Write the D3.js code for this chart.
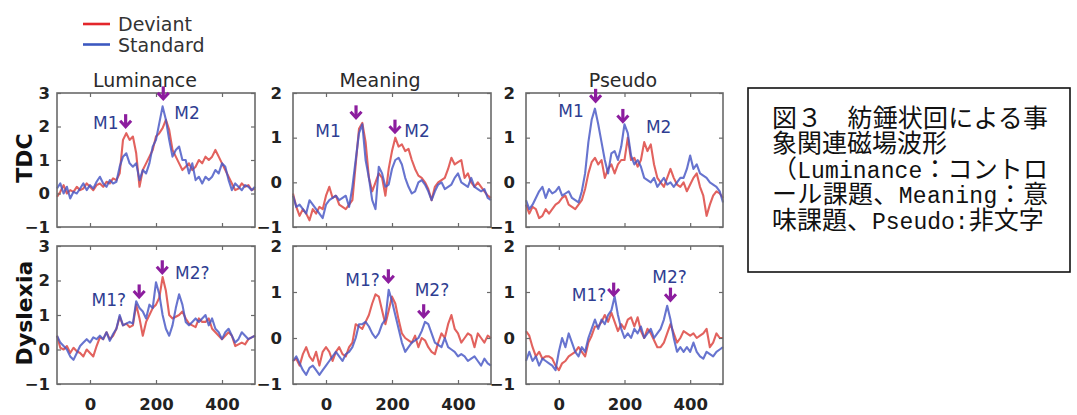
<!DOCTYPE html>
<html><head><meta charset="utf-8">
<script src="https://cdn.jsdelivr.net/npm/d3@7"></script>
<style>body{margin:0;background:#fff;} svg{display:block;}</style>
</head><body>
<svg id="chart" width="1077" height="415"></svg>
<script>
// ---------- DATA ----------
const times = d3.range(-100, 501, 10); // ms sample times
const xTickValues = [0, 200, 400];
const yTicks3 = [-1, 0, 1, 2, 3];
const yTicks2 = [-1, 0, 1, 2];
const seriesNames = ["Deviant", "Standard"];
const rowLabels = ["TDC", "Dyslexia"];
const colTitles = ["Luminance", "Meaning", "Pseudo"];

const lumTdcDev = [-0.1,0.05,0.25,0.0,0.1,0.05,0.2,0.1,0.15,0.3,
  0.2,0.1,0.25,0.3,0.2,0.35,0.3,0.45,0.4,0.6,
  1.6,1.8,1.6,1.7,1.2,0.2,0.7,0.9,1.1,1.3,
  1.7,1.8,1.95,2.2,1.9,1.3,1.1,0.9,0.7,0.8,
  0.9,0.7,0.8,1.0,0.9,1.1,1.0,1.1,1.3,1.1,
  0.9,0.7,0.5,0.3,0.1,0.15,0.3,0.2,0.25,0.1,
  0.15];
const lumTdcStd = [0.15,0.3,0.0,0.2,-0.15,0.05,0.0,0.15,0.3,0.1,
  0.25,0.15,0.35,0.5,0.3,0.2,0.4,0.3,0.35,0.8,
  1.1,1.2,0.9,0.8,0.9,0.4,0.7,0.6,0.9,1.4,
  1.6,2.1,2.6,2.2,1.6,1.1,1.3,1.4,1.0,1.0,
  0.6,0.9,0.4,0.5,0.3,0.5,0.4,0.5,0.7,0.6,
  0.9,0.8,0.4,0.1,0.3,0.2,0.1,0.25,0.2,0.1,
  0.2];
const meanTdcDev = [-0.25,-0.55,-0.75,-0.6,-0.7,-0.85,-0.6,-0.7,-0.55,-0.6,
  -0.3,-0.1,-0.35,-0.3,-0.5,-0.55,-0.6,-0.5,-0.4,0.4,
  1.2,1.33,0.9,0.1,-0.2,0.0,0.2,0.1,-0.3,0.3,
  0.7,1.0,0.8,0.85,0.7,0.75,0.5,0.3,0.15,0.1,
  0.0,-0.15,-0.4,-0.1,0.0,0.05,0.1,0.3,0.55,0.4,
  0.45,0.5,0.1,0.2,0.0,-0.1,0.0,-0.1,-0.2,-0.3,
  -0.35];
const meanTdcStd = [-0.3,-0.55,-0.5,-0.6,-0.7,-0.4,-0.5,-0.6,-0.7,-0.8,
  -0.5,-0.4,-0.35,-0.3,-0.4,-0.35,-0.3,-0.55,-0.1,0.5,
  1.1,1.3,0.5,0.1,-0.4,-0.6,0.35,0.2,-0.1,-0.05,
  0.3,0.5,0.55,0.4,0.1,-0.1,-0.25,-0.2,0.0,0.05,
  -0.05,-0.2,-0.4,-0.2,-0.05,0.0,-0.15,-0.1,-0.05,0.1,
  0.2,0.0,-0.05,-0.1,0.1,-0.1,-0.15,-0.2,-0.15,-0.35,
  -0.4];
const pseuTdcDev = [-0.5,-0.7,-0.55,-0.6,-0.8,-0.75,-0.6,-0.7,-0.6,-0.5,
  -0.45,-0.35,-0.3,-0.5,-0.55,-0.6,-0.5,-0.4,-0.15,0.2,
  0.45,0.55,0.4,0.5,0.1,0.3,0.4,0.2,0.4,0.5,
  0.5,1.0,0.5,0.55,0.35,0.5,0.9,0.7,0.85,0.4,
  0.1,0.0,-0.1,0.1,0.3,0.1,-0.05,-0.1,0.0,-0.2,
  -0.05,0.1,0.2,-0.1,-0.3,-0.75,-0.5,-0.3,-0.2,-0.25,
  -0.35];
const pseuTdcStd = [-0.4,-0.6,-0.5,-0.35,-0.2,-0.1,-0.35,-0.15,-0.25,-0.2,
  -0.1,-0.3,-0.25,-0.2,-0.35,-0.4,-0.45,-0.2,0.2,0.9,
  1.4,1.65,1.3,0.9,0.5,0.2,0.65,0.7,0.5,0.8,
  1.3,1.1,0.6,0.4,0.5,0.35,0.1,0.05,0.0,0.1,
  -0.1,0.0,0.1,-0.05,0.0,-0.1,0.0,0.1,0.1,0.3,
  0.6,0.3,0.4,0.2,0.15,0.1,0.0,-0.05,-0.1,-0.2,
  -0.45];
const lumDysDev = [0.4,0.05,0.0,0.1,-0.1,0.05,-0.05,-0.1,-0.2,0.0,
  -0.1,-0.2,0.1,0.35,0.3,0.5,0.3,0.4,0.6,0.95,
  0.7,0.75,0.65,0.7,1.3,0.9,0.4,0.8,1.0,1.2,
  1.3,1.5,2.1,1.7,1.0,0.9,0.95,1.0,1.1,0.9,
  0.75,0.7,0.65,0.9,0.8,0.8,0.9,0.6,0.5,0.4,
  0.3,0.4,0.5,0.4,0.1,0.15,0.2,0.15,0.3,0.35,
  0.4];
const lumDysStd = [0.4,0.2,0.1,0.0,-0.2,-0.3,-0.1,0.1,0.2,0.3,
  0.2,0.35,0.3,0.4,0.3,0.5,0.25,0.45,0.6,1.0,
  0.7,0.75,0.8,0.75,1.4,1.2,1.1,0.9,1.3,1.2,
  1.95,1.6,1.0,0.6,0.4,0.7,1.2,1.6,1.3,0.8,
  0.7,0.8,0.9,0.8,0.9,1.0,0.7,0.9,0.6,0.5,
  0.3,0.5,0.6,0.4,0.2,0.3,0.5,0.4,0.3,0.35,
  0.4];
const meanDysDev = [-0.5,-0.45,-0.6,-0.35,-0.2,-0.4,-0.5,-0.3,-0.6,-0.3,
  -0.2,-0.3,-0.5,-0.3,-0.2,-0.35,-0.4,-0.2,-0.1,0.3,
  0.25,0.2,0.35,0.5,0.75,0.95,0.9,0.6,0.3,0.6,
  0.9,0.75,0.4,0.1,0.0,-0.05,-0.1,0.05,-0.2,0.0,
  -0.05,-0.2,-0.3,-0.35,-0.1,0.1,0.0,0.3,0.5,0.2,
  0.1,-0.1,0.0,0.1,0.05,-0.2,0.1,0.0,-0.1,0.05,
  0.0];
const meanDysStd = [-0.5,-0.4,-0.55,-0.7,-0.8,-0.65,-0.6,-0.7,-0.8,-0.7,
  -0.6,-0.5,-0.4,-0.3,-0.4,-0.5,-0.35,-0.3,-0.2,0.0,
  0.3,0.3,0.35,0.25,0.1,0.0,0.1,0.3,0.4,1.05,
  0.8,0.5,0.2,-0.1,-0.3,-0.2,-0.1,-0.05,0.0,0.15,
  0.35,0.3,0.1,-0.1,-0.15,-0.2,0.0,-0.2,-0.25,-0.3,
  -0.4,-0.35,-0.4,-0.5,-0.45,-0.4,-0.5,-0.6,-0.45,-0.55,
  -0.6];
const pseuDysDev = [0.15,0.05,-0.2,-0.4,-0.3,-0.45,-0.4,-0.4,-0.45,-0.6,
  -0.7,-0.55,-0.5,-0.4,-0.35,-0.3,-0.2,-0.3,-0.4,-0.1,
  0.05,0.25,0.25,0.35,0.5,0.35,0.55,0.35,0.15,0.3,
  0.2,0.4,0.45,0.25,0.45,0.15,0.0,0.2,0.1,-0.05,
  -0.2,-0.2,-0.1,0.1,0.3,0.1,-0.1,0.0,0.15,0.1,
  0.05,0.1,0.0,0.05,0.1,0.2,-0.2,-0.1,0.1,0.0,
  0.0];
const pseuDysStd = [-0.5,-0.3,-0.5,-0.4,-0.6,-0.45,-0.5,-0.55,-0.6,-0.7,
  -0.3,0.0,-0.2,0.1,-0.1,-0.3,-0.4,-0.2,-0.3,0.0,
  0.2,0.4,0.2,0.4,0.3,0.5,0.6,0.9,0.5,0.2,
  0.0,0.1,0.0,0.2,0.1,0.25,0.0,0.1,0.2,0.0,
  0.1,0.2,0.4,0.7,0.4,0.0,-0.3,-0.2,-0.3,-0.2,
  -0.3,-0.1,-0.3,-0.4,-0.45,-0.3,-0.35,-0.4,-0.3,-0.25,
  -0.2];

// annotations: label centre (lt, lv) and arrow tip (at, av), in data units
const annLumTdc = [{label:"M1", lt:48, lv:2.1, at:108, av:1.95}, {label:"M2", lt:294, lv:2.4, at:222, av:2.78}];
const annMeanTdc = [{label:"M1", lt:6, lv:1.14, at:91, av:1.41}, {label:"M2", lt:276, lv:1.14, at:209, av:1.09}];
const annPseuTdc = [{label:"M1", lt:37, lv:1.59, at:112, av:1.78}, {label:"M2", lt:304, lv:1.24, at:195, av:1.33}];
const annLumDys = [{label:"M1?", lt:57, lv:1.43, at:149, av:1.48}, {label:"M2?", lt:310, lv:2.22, at:219, av:2.18}];
const annMeanDys = [{label:"M1?", lt:111, lv:1.26, at:189, av:1.19}, {label:"M2?", lt:321, lv:1.04, at:296, av:0.43}];
const annPseuDys = [{label:"M1?", lt:92, lv:0.93, at:167, av:0.9}, {label:"M2?", lt:337, lv:1.33, at:340, av:0.79}];

const captionLines = [
  [["図３　紡錘状回による事", "cjk"]],
  [["象関連磁場波形", "cjk"]],
  [["（", "cjk"], ["Luminance", "lat"], ["：コントロ", "cjk"]],
  [["ール課題、", "cjk"], ["Meaning", "lat"], ["：意", "cjk"]],
  [["味課題、", "cjk"], ["Pseudo:", "lat"], ["非文字", "cjk"]]
];
const captionJustify = [true, false, true, true, false];

// ---------- LAYOUT / STYLE ----------
const RED = "#dc3f3a", BLUE = "#4656c4", PURPLE = "#8c1d9e", LABEL = "#2f3e92", FRAME = "#6a6a6a";
const colX = [[57, 255], [293, 491], [526, 723]];
const rowY = [[93, 227], [246, 384]];
const yLabelPad = [7, 11, 11];
const titleX = [145, 380, 623];

const panels = [
  {row:0, col:0, dev:lumTdcDev, std:lumTdcStd, yTicks:yTicks3, ann:annLumTdc},
  {row:0, col:1, dev:meanTdcDev, std:meanTdcStd, yTicks:yTicks2, ann:annMeanTdc},
  {row:0, col:2, dev:pseuTdcDev, std:pseuTdcStd, yTicks:yTicks2, ann:annPseuTdc},
  {row:1, col:0, dev:lumDysDev, std:lumDysStd, yTicks:yTicks3, ann:annLumDys},
  {row:1, col:1, dev:meanDysDev, std:meanDysStd, yTicks:yTicks2, ann:annMeanDys},
  {row:1, col:2, dev:pseuDysDev, std:pseuDysStd, yTicks:yTicks2, ann:annPseuDys}
];

const svg = d3.select("#chart");

panels.forEach(p => {
  const [xl, xr] = colX[p.col], [yt, yb] = rowY[p.row];
  const yDom = d3.extent(p.yTicks);
  const x = d3.scaleLinear().domain([d3.min(times), d3.max(times)]).range([xl, xr]);
  const y = d3.scaleLinear().domain(yDom).range([yb, yt]);
  const g = svg.append("g");

  const line = d3.line().x((d, i) => x(times[i])).y(d => y(d));
  [[p.dev, RED], [p.std, BLUE]].forEach(([vals, c]) => {
    g.append("path").attr("d", line(vals)).attr("fill", "none")
      .attr("stroke", c).attr("stroke-width", 2.1).attr("stroke-opacity", 0.82)
      .attr("stroke-linejoin", "round");
  });

  // axes (inward ticks on all four sides)
  const styleAxis = sel => {
    sel.select(".domain").remove();
    sel.selectAll(".tick line").attr("stroke", FRAME).attr("stroke-width", 1.2);
    sel.selectAll(".tick text").attr("fill", "#222")
      .style("font-family", "'DejaVu Sans', sans-serif").style("font-weight", "bold").style("font-size", "16.5px");
  };
  g.append("g").attr("transform", `translate(${xl},0)`)
    .call(d3.axisLeft(y).tickValues(p.yTicks).tickSize(-4).tickPadding(yLabelPad[p.col]).tickFormat(d3.format("d")))
    .call(styleAxis);
  g.append("g").attr("transform", `translate(${xr},0)`)
    .call(d3.axisRight(y).tickValues(p.yTicks).tickSize(-4).tickFormat(""))
    .call(styleAxis);
  g.append("g").attr("transform", `translate(0,${yt})`)
    .call(d3.axisTop(x).tickValues(xTickValues).tickSize(-4).tickFormat(""))
    .call(styleAxis);
  const bottom = d3.axisBottom(x).tickValues(xTickValues).tickSize(-4).tickPadding(14);
  if (p.row === 0) bottom.tickFormat("");
  g.append("g").attr("transform", `translate(0,${yb})`).call(bottom).call(styleAxis);

  g.append("rect").attr("x", xl).attr("y", yt).attr("width", xr - xl).attr("height", yb - yt)
    .attr("fill", "none").attr("stroke", FRAME).attr("stroke-width", 1.6);

  // annotations
  p.ann.forEach(a => {
    g.append("text").attr("x", x(a.lt)).attr("y", y(a.lv)).attr("text-anchor", "middle")
      .attr("dominant-baseline", "central").attr("fill", LABEL)
      .style("font-family", "'DejaVu Sans', sans-serif").style("font-size", "17px").text(a.label);
    const tx = x(a.at), ty = y(a.av);
    g.append("path").attr("d", `M${tx},${ty - 14}L${tx},${ty - 2}`)
      .attr("stroke", PURPLE).attr("stroke-width", 3.2).attr("fill", "none");
    g.append("path").attr("d", `M${tx - 5.5},${ty - 7.5}L${tx},${ty - 1.5}L${tx + 5.5},${ty - 7.5}`)
      .attr("stroke", PURPLE).attr("stroke-width", 3).attr("fill", "none").attr("stroke-linejoin", "miter");
  });
});

// column titles
colTitles.forEach((t, i) => {
  svg.append("text").attr("x", titleX[i]).attr("y", 87).attr("text-anchor", "middle")
    .attr("fill", "#2a2a2a").style("font-family", "'DejaVu Sans', sans-serif").style("font-size", "19px").text(t);
});

// row labels
rowLabels.forEach((t, i) => {
  const cy = (rowY[i][0] + rowY[i][1]) / 2 - 2;
  svg.append("text").attr("transform", `translate(32,${cy}) rotate(-90)`).attr("text-anchor", "middle")
    .attr("fill", "#111").style("font-family", "'DejaVu Sans', sans-serif").style("font-weight", "bold")
    .style("font-size", "22px").text(t);
});

// legend
seriesNames.forEach((n, i) => {
  const ly = 24 + i * 20.5;
  svg.append("line").attr("x1", 83).attr("x2", 110).attr("y1", ly).attr("y2", ly)
    .attr("stroke", i === 0 ? "#e3262b" : "#3c58c0").attr("stroke-width", 2.6);
  svg.append("text").attr("x", 118).attr("y", ly + 7).attr("fill", "#333")
    .style("font-family", "'DejaVu Sans', sans-serif").style("font-size", "19px").text(n);
});

// caption box
svg.append("rect").attr("x", 748).attr("y", 88).attr("width", 322).attr("height", 184)
  .attr("fill", "none").attr("stroke", "#111").attr("stroke-width", 1.6);
captionLines.forEach((segs, i) => {
  const t = svg.append("text").attr("x", 772).attr("y", 127 + i * 25.4).attr("fill", "#111");
  segs.forEach(([s, kind]) => {
    t.append("tspan").text(s)
      .style("font-family", kind === "cjk" ? "'Noto Sans CJK JP', sans-serif" : "'Liberation Mono', monospace")
      .style("font-size", kind === "cjk" ? "25px" : "23px");
  });
  if (captionJustify[i]) {
    const w = t.node().getComputedTextLength();
    const n = segs.map(d => d[0]).join("").length;
    const target = 276;
    t.style("letter-spacing", ((target - w) / (n - 1)) + "px");
  }
});
</script>
</body></html>
